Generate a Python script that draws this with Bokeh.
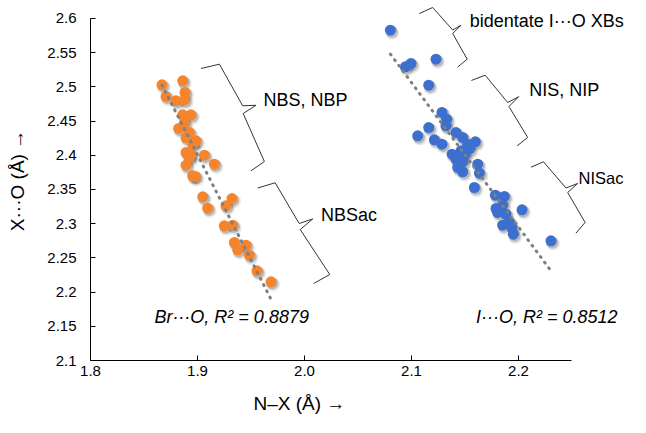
import numpy as np
from bokeh.plotting import figure
from bokeh.models import (Range1d, FixedTicker, CustomJSTickFormatter, Label, Title,
                          ColumnDataSource)
from bokeh.transform import dodge
from bokeh.embed import file_html
from bokeh.resources import INLINE

# ---------------- data ----------------
br_x = [1.8668, 1.8862, 1.8883, 1.8706, 1.8799, 1.8878, 1.8862, 1.8939, 1.8878, 1.8824,
        1.8924, 1.8893, 1.8986, 1.8955, 1.8893, 1.8939, 1.8924, 1.9064, 1.8893, 1.9158,
        1.8955, 1.8980, 1.9049, 1.9322, 1.9095, 1.9266, 1.9251, 1.9329, 1.9345, 1.9453,
        1.9376, 1.9485, 1.9556, 1.9687]
br_y = [2.5031, 2.5089, 2.4918, 2.4860, 2.4797, 2.4811, 2.4592, 2.4592, 2.4465, 2.4392,
        2.4333, 2.4260, 2.4212, 2.4162, 2.4041, 2.4016, 2.3968, 2.4001, 2.3855, 2.3870,
        2.3700, 2.3690, 2.3393, 2.3368, 2.3227, 2.3262, 2.2969, 2.2978, 2.2725, 2.2686,
        2.2618, 2.2539, 2.2311, 2.2151]

i_x = [2.0803, 2.0943, 2.0995, 2.1229, 2.1161, 2.1285, 2.1329, 2.1322, 2.1161, 2.1058,
       2.1214, 2.1285, 2.1416, 2.1479, 2.1597, 2.1525, 2.1541, 2.1463, 2.1379, 2.1494,
       2.1416, 2.1479, 2.1432, 2.1479, 2.1619, 2.1635, 2.1588, 2.1784, 2.1868, 2.2033,
       2.1790, 2.1852, 2.1806, 2.1883, 2.1852, 2.1915, 2.1939, 2.1952, 2.2304]
i_y = [2.5829, 2.5294, 2.5342, 2.5405, 2.5025, 2.4626, 2.4528, 2.4431, 2.4406, 2.4285,
       2.4227, 2.4162, 2.4333, 2.4260, 2.4197, 2.4162, 2.4089, 2.4066, 2.4016, 2.3993,
       2.3943, 2.3905, 2.3822, 2.3759, 2.3870, 2.3738, 2.3529, 2.3417, 2.3398, 2.3203,
       2.3222, 2.3270, 2.3164, 2.3139, 2.2978, 2.3028, 2.2944, 2.2846, 2.2750]

x_ticks = [1.8, 1.9, 2.0, 2.1, 2.2]
y_ticks = [2.1, 2.15, 2.2, 2.25, 2.3, 2.35, 2.4, 2.45, 2.5, 2.55, 2.6]

br_label = "Br···O, R² = 0.8879"
i_label = "I···O, R² = 0.8512"
x_title = "N–X (Å) →"
y_title = "X···O (Å) →"

# group annotations: label text, label anchor, font size, brace outline (data units)
groups = [
    ("NBS, NBP", (1.9616, 2.4808), "18px",
     [1.9033, 1.9205, 1.9422, 1.9547, 1.9427, 1.9625, 1.9500],
     [2.5269, 2.5332, 2.4724, 2.4731, 2.4611, 2.3909, 2.3773]),
    ("NBSac", (2.0154, 2.3120), "18px",
     [1.9563, 1.9726, 1.9950, 2.0077, 1.9960, 2.0236, 2.0086],
     [2.3522, 2.3598, 2.3003, 2.3069, 2.2915, 2.2257, 2.2126]),
    ("bidentate I···O XBs", (2.1544, 2.5963), "18px",
     [2.1074, 2.1198, 2.1385, 2.1463, 2.1385, 2.1521, 2.1432],
     [2.6073, 2.6161, 2.5832, 2.5901, 2.5781, 2.5405, 2.5291]),
    ("NIS, NIP", (2.2100, 2.4955), "18px",
     [2.1560, 2.1689, 2.1899, 2.2002, 2.1911, 2.2086, 2.1988],
     [2.5094, 2.5171, 2.4772, 2.4857, 2.4713, 2.4260, 2.4139]),
    ("NISac", (2.2561, 2.3675), "16.5px",
     [2.2117, 2.2234, 2.2444, 2.2553, 2.2460, 2.2623, 2.2537],
     [2.3826, 2.3905, 2.3522, 2.3588, 2.3456, 2.3018, 2.2861]),
]
stat_labels = [(br_label, (1.8597, 2.1640)), (i_label, (2.1603, 2.1640))]

ORANGE = "#F5842C"
BLUE = "#3D6FCE"
FONT = "Liberation Sans"

# ---------------- figure ----------------
p = figure(width=630, height=417, output_backend="svg", toolbar_location=None,
           x_range=Range1d(1.8, 2.3047), y_range=Range1d(2.1, 2.6263),
           min_border_left=90, min_border_right=0, min_border_top=0,
           min_border_bottom=57)
p.grid.visible = False
p.outline_line_color = None
p.background_fill_color = "white"
p.border_fill_color = "white"

xa = p.xaxis[0]
xa.bounds = (1.8, 2.25)
xa.ticker = FixedTicker(ticks=x_ticks)
xa.formatter = CustomJSTickFormatter(code="return tick.toFixed(1)")
xa.major_tick_in = 5
xa.major_tick_out = 0
xa.minor_tick_line_color = None
xa.major_label_standoff = 5
xa.axis_line_color = "black"
xa.major_tick_line_color = "black"
xa.major_label_text_font = FONT
xa.major_label_text_font_size = "15px"
xa.major_label_text_color = "black"
# invisible spacer label so the title below sits near the bottom edge
xa.axis_label = "\u00a0"
xa.axis_label_text_font_size = "6px"
xa.axis_label_standoff = 3

ya = p.yaxis[0]
ya.bounds = (2.1, 2.6)
ya.ticker = FixedTicker(ticks=y_ticks)
ya.formatter = CustomJSTickFormatter(code="return tick.toFixed(2).replace(/0$/, '')")
ya.major_tick_in = 5
ya.major_tick_out = 0
ya.minor_tick_line_color = None
ya.major_label_standoff = 14
ya.axis_line_color = "black"
ya.major_tick_line_color = "black"
ya.major_label_text_font = FONT
ya.major_label_text_font_size = "15px"
ya.major_label_text_color = "black"
ya.axis_label = y_title
ya.axis_label_text_font = FONT
ya.axis_label_text_font_size = "19px"
ya.axis_label_text_font_style = "normal"
ya.axis_label_text_color = "black"
ya.axis_label_standoff = 16

# x-axis title, placed under the 1.8-2.2 span as in the original
p.add_layout(Title(text=x_title, align="left", offset=163, standoff=0,
                   text_font=FONT, text_font_size="19px", text_font_style="normal",
                   text_color="black"), "below")

# ---------------- markers ----------------
for xs, ys, col in [(br_x, br_y, ORANGE), (i_x, i_y, BLUE)]:
    src = ColumnDataSource(dict(x=xs, y=ys))
    p.scatter(x=dodge("x", 0.0019), y=dodge("y", -0.0040), source=src, size=14,
              fill_color="black", fill_alpha=0.09, line_color=None)
    p.scatter(x=dodge("x", 0.0013), y=dodge("y", -0.0027), source=src, size=12,
              fill_color="black", fill_alpha=0.20, line_color=None)
    p.scatter("x", "y", source=src, size=11, fill_color=col, line_color=None)

# ---------------- linear trendlines ----------------
for xs, ys in [(br_x, br_y), (i_x, i_y)]:
    m, b = np.polyfit(xs, ys, 1)
    lx = np.array([min(xs), max(xs)])
    p.line(lx, m * lx + b, line_color="#7f7f7f", line_width=3, line_dash="1 6",
           line_cap="round")

# ---------------- braces and labels ----------------
for text, (tx, ty), fs, bx, by in groups:
    p.line(bx, by, line_color="#333333", line_width=1)
    p.add_layout(Label(x=tx, y=ty, text=text, text_font=FONT, text_font_size=fs,
                       text_align="left", text_baseline="middle", text_color="black"))

for text, (tx, ty) in stat_labels:
    p.add_layout(Label(x=tx, y=ty, text=text, text_font=FONT, text_font_size="18px",
                       text_font_style="italic", text_align="left",
                       text_baseline="middle", text_color="black"))

open("out.html", "w").write(file_html(p, INLINE))
